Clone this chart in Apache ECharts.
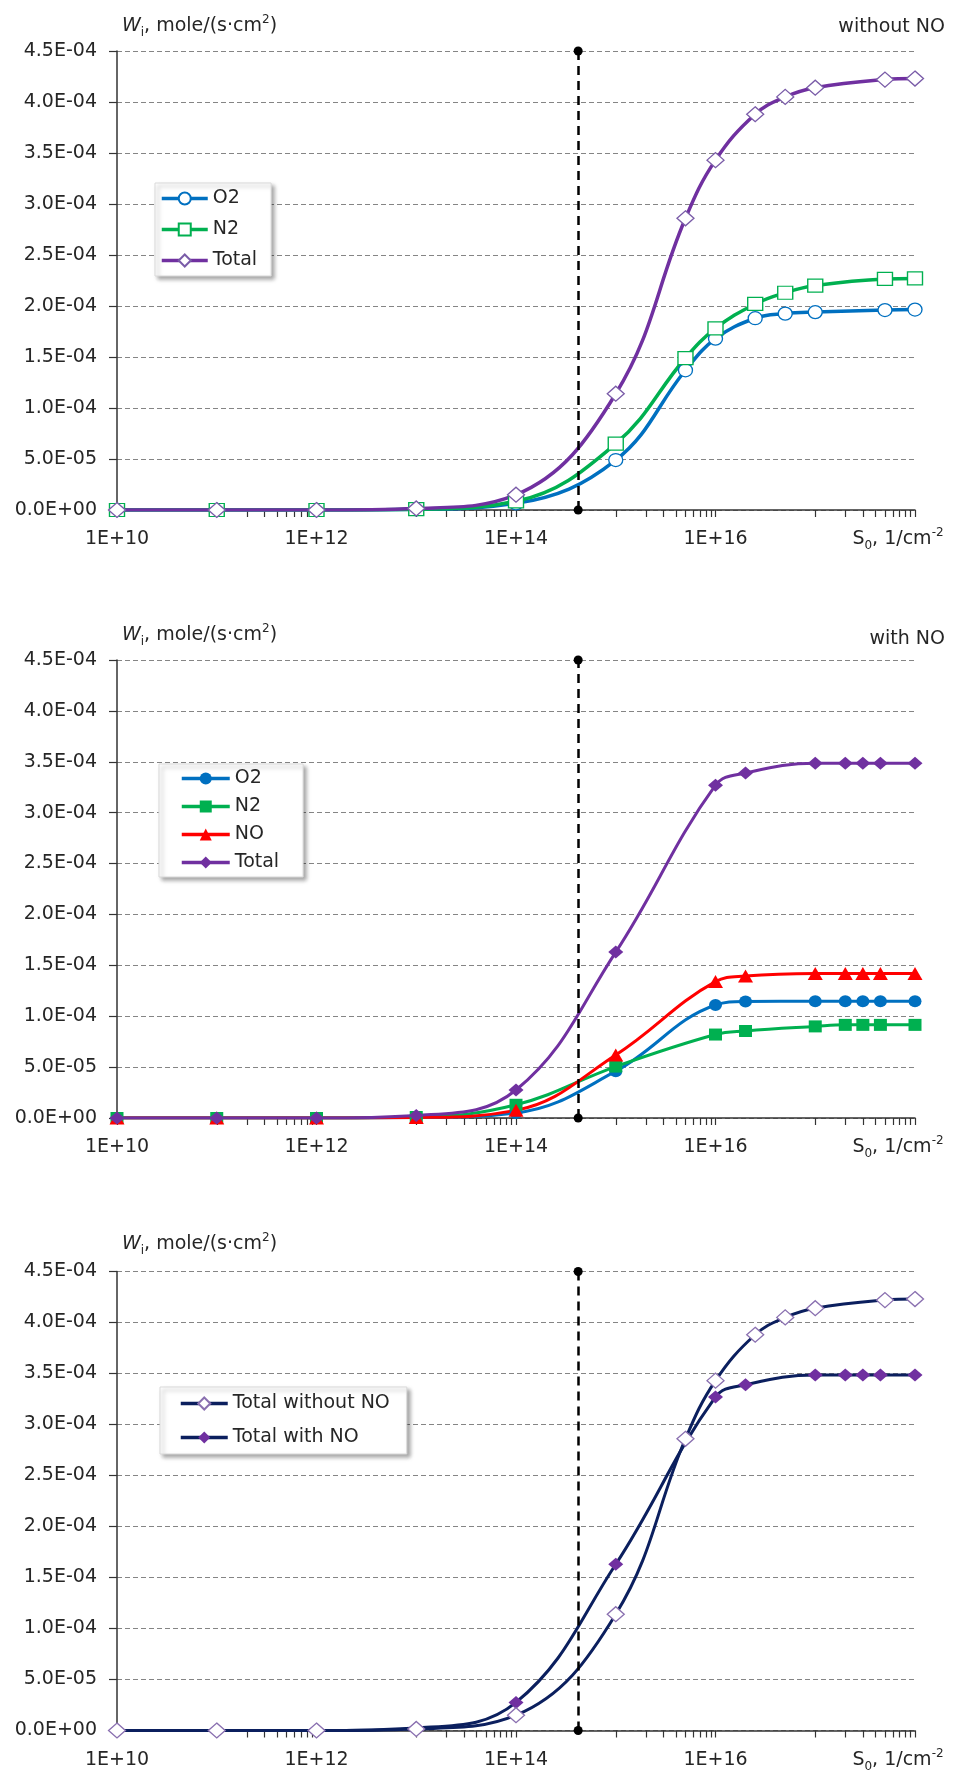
<!DOCTYPE html>
<html>
<head>
<meta charset="utf-8">
<script src="https://cdn.jsdelivr.net/npm/echarts@6/dist/echarts.min.js"></script>
<style>
  html, body { margin: 0; padding: 0; background: #fff; }
  .chart { position: absolute; left: 0; width: 955px; }
</style>
</head>
<body>
<div id="c1" class="chart" style="top:0;height:560px"></div>
<div id="c2" class="chart" style="top:560px;height:600px"></div>
<div id="c3" class="chart" style="top:1160px;height:618px"></div>
<script>
// S0 values (1/cm^2) for the run without NO
const sWithout = [1e10, 1e11, 1e12, 1e13, 1e14, 1e15, 5e15, 1e16, 2.5e16, 5e16, 1e17, 5e17, 1e18]
const o2Without = [0, 0, 0, 0.7e-6, 6.5e-6, 4.9e-5, 1.37e-4, 1.68e-4, 1.88e-4, 1.925e-4, 1.94e-4, 1.96e-4, 1.965e-4]
const n2Without = [0, 0, 0, 0.8e-6, 8.5e-6, 6.5e-5, 1.49e-4, 1.78e-4, 2.02e-4, 2.13e-4, 2.2e-4, 2.265e-4, 2.27e-4]
const totalWithout = [0, 0, 0, 1.5e-6, 1.5e-5, 1.14e-4, 2.86e-4, 3.43e-4, 3.88e-4, 4.05e-4, 4.14e-4, 4.22e-4, 4.23e-4]

// S0 values for the run with NO
const sWith = [1e10, 1e11, 1e12, 1e13, 1e14, 1e15, 1e16, 2e16, 1e17, 2e17, 3e17, 4.5e17, 1e18]
const o2With = [0, 0, 0, 0.5e-6, 5e-6, 4.6e-5, 1.11e-4, 1.145e-4, 1.148e-4, 1.148e-4, 1.148e-4, 1.148e-4, 1.148e-4]
const n2With = [0, 0, 0, 1e-6, 1.3e-5, 5.05e-5, 8.2e-5, 8.55e-5, 9.0e-5, 9.15e-5, 9.15e-5, 9.15e-5, 9.15e-5]
const noWith = [0, 0, 0, 0.5e-6, 7.5e-6, 6.2e-5, 1.34e-4, 1.395e-4, 1.42e-4, 1.42e-4, 1.42e-4, 1.42e-4, 1.42e-4]
const totalWith = [0, 0, 0, 2.5e-6, 2.75e-5, 1.63e-4, 3.27e-4, 3.39e-4, 3.485e-4, 3.485e-4, 3.485e-4, 3.485e-4, 3.485e-4]

// dashed reference line position
const markerS = 4.2e14

// axis ticks / labels (exponents of 10)
const xLabelExps = [10, 12, 14, 16]
const oddDecades = [11, 13, 15, 17]
const yMax = 4.5e-4
const yStep = 5e-5

const FONT = 'DejaVu Sans'
const FS = 19
const TEXT = '#262626'
const AXIS = '#333'

// a tick at every decade, plus 2..9 inside the odd decades
const xTicks = []
for (let e = 10; e <= 18; e++) xTicks.push(e)
oddDecades.forEach(d => {
  for (let k = 2; k <= 9; k++) xTicks.push(Math.log10(k) + d)
})
xTicks.sort((a, b) => a - b)

function sci(v) {
  const parts = Number(v).toExponential(1).split('e')
  const exp = parseInt(parts[1], 10)
  return parts[0] + 'E' + (exp < 0 ? '-' : '+') + String(Math.abs(exp)).padStart(2, '0')
}

function pts(sArr, vals) {
  return sArr.map((s, i) => [Math.log10(s), vals[i]])
}

const subSup = {
  t: { fontFamily: FONT, fontSize: FS, color: TEXT, lineHeight: 25 },
  w: { fontFamily: FONT, fontSize: FS, color: TEXT, lineHeight: 25, fontStyle: 'italic' },
  sub: { fontFamily: FONT, fontSize: 12, color: TEXT, lineHeight: 14, verticalAlign: 'bottom' },
  sup: { fontFamily: FONT, fontSize: 12, color: TEXT, lineHeight: 14, verticalAlign: 'top' },
}

function lineSeries(name, sArr, vals, o) {
  return {
    name: name,
    type: 'line',
    data: pts(sArr, vals),
    smooth: 0.4,
    symbol: o.symbol,
    symbolSize: o.size,
    lineStyle: { color: o.line, width: o.width },
    itemStyle: { color: o.fill, borderColor: o.border, borderWidth: o.bw || 0 },
    z: o.z || 2,
  }
}

function markLineOf() {
  const x = Math.log10(markerS)
  return {
    silent: true,
    symbol: ['circle', 'circle'],
    symbolSize: 9,
    label: { show: false },
    lineStyle: { color: '#000', width: 2.5, type: [9, 6] },
    data: [[{ coord: [x, 0] }, { coord: [x, yMax] }]],
  }
}

function buildOption(cfg) {
  cfg.series[0].markLine = markLineOf()
  return {
    animation: false,
    title: cfg.title ? {
      text: cfg.title, right: 5, top: cfg.titleTop,
      textStyle: { fontFamily: FONT, fontSize: FS, fontWeight: 'normal', color: TEXT },
    } : undefined,
    legend: Object.assign({
      orient: 'vertical',
      backgroundColor: '#fff',
      borderColor: '#d9d9d9',
      borderWidth: 1,
      shadowBlur: 4,
      shadowColor: 'rgba(0,0,0,0.35)',
      shadowOffsetX: 3,
      shadowOffsetY: 3,
      itemHeight: 15,
      lineStyle: { width: 3.5 },
      textStyle: { fontFamily: FONT, fontSize: FS, color: TEXT },
    }, cfg.legend),
    grid: { left: 117, width: 798, top: cfg.gridTop, height: cfg.gridHeight },
    xAxis: {
      type: 'value', min: 10, max: 18, interval: 1,
      axisLine: { onZero: false, lineStyle: { color: AXIS, width: 1.5 } },
      axisTick: { show: true, length: 7, customValues: xTicks, lineStyle: { color: AXIS, width: 1.2 } },
      axisLabel: {
        customValues: xLabelExps, formatter: v => '1E+' + Math.round(v),
        margin: 20, fontFamily: FONT, fontSize: FS, color: TEXT,
      },
      splitLine: { show: false },
      name: '{t|S}{sub|0}{t|, 1/cm}{sup|-2}',
      nameLocation: 'end',
      nameGap: -17,
      nameTextStyle: { align: 'center', verticalAlign: 'top', padding: [17, 0, 0, 0], rich: subSup },
    },
    yAxis: {
      type: 'value', min: 0, max: yMax, interval: yStep,
      axisLine: { show: true, lineStyle: { color: AXIS, width: 1.5 } },
      axisTick: { show: true, length: 8, lineStyle: { color: AXIS, width: 1.2 } },
      axisLabel: { formatter: sci, margin: 20, fontFamily: FONT, fontSize: FS, color: TEXT },
      splitLine: { lineStyle: { color: '#858585', width: 1, type: [5, 3] } },
      name: '{w|W}{sub|i}{t|, mole/(s·cm}{sup|2}{t|)}',
      nameLocation: 'end',
      nameGap: cfg.nameGap,
      nameTextStyle: { align: 'left', verticalAlign: 'middle', padding: [0, 0, 0, 5], rich: subSup },
    },
    series: cfg.series,
  }
}

const BLUE = '#0070C0', GREEN = '#00B050', RED = '#FF0000', PURPLE = '#7030A0', NAVY = '#0B1F5E'

const opt1 = buildOption({
  title: 'without NO', titleTop: 13,
  gridTop: 51, gridHeight: 459, nameGap: 25,
  legend: { left: 155, top: 183, padding: [6, 14, 6, 5], itemGap: 12, itemWidth: 46 },
  series: [
    lineSeries('O2', sWithout, o2Without, { symbol: 'circle', size: [14, 13], line: BLUE, width: 3.5, fill: '#fff', border: BLUE, bw: 1.3 }),
    lineSeries('N2', sWithout, n2Without, { symbol: 'rect', size: [15, 13], line: GREEN, width: 3.5, fill: '#fff', border: GREEN, bw: 1.3 }),
    lineSeries('Total', sWithout, totalWithout, { symbol: 'diamond', size: [17, 15], line: PURPLE, width: 3.5, fill: '#fff', border: '#7a5ca8', bw: 1.3 }),
  ],
})

const opt2 = buildOption({
  title: 'with NO', titleTop: 65,
  gridTop: 100, gridHeight: 460, nameGap: 25,
  legend: { left: 159, top: 204, padding: [5, 24, 5, 21], itemGap: 9, itemWidth: 48 },
  series: [
    lineSeries('O2', sWith, o2With, { symbol: 'circle', size: [13, 12], line: BLUE, width: 3, fill: BLUE, border: BLUE }),
    lineSeries('N2', sWith, n2With, { symbol: 'rect', size: [13, 12], line: GREEN, width: 3, fill: GREEN, border: GREEN }),
    lineSeries('NO', sWith, noWith, { symbol: 'triangle', size: [15, 13], line: RED, width: 3, fill: RED, border: RED }),
    lineSeries('Total', sWith, totalWith, { symbol: 'diamond', size: [15, 13], line: PURPLE, width: 3, fill: PURPLE, border: PURPLE }),
  ],
})

const opt3 = buildOption({
  gridTop: 111.5, gridHeight: 459, nameGap: 27,
  legend: { left: 160, top: 227, padding: [7, 17, 7, 19], itemGap: 15, itemWidth: 47 },
  series: [
    lineSeries('Total without NO', sWithout, totalWithout, { symbol: 'diamond', size: [17, 15], line: NAVY, width: 3, fill: '#fff', border: '#8a70b0', bw: 1.3, z: 3 }),
    lineSeries('Total with NO', sWith, totalWith, { symbol: 'diamond', size: [15, 13], line: NAVY, width: 3, fill: PURPLE, border: PURPLE }),
  ],
})

echarts.init(document.getElementById('c1')).setOption(opt1)
echarts.init(document.getElementById('c2')).setOption(opt2)
echarts.init(document.getElementById('c3')).setOption(opt3)
</script>
</body>
</html>
